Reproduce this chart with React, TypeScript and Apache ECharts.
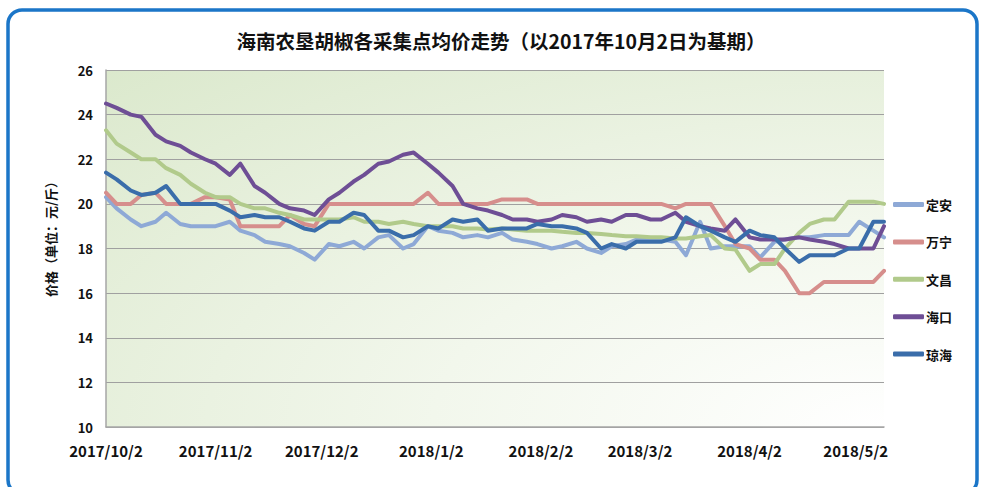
import React, { useEffect, useRef } from "react";
import * as echarts from "echarts";

// Collection dates (Mon / Thu)
const dates: string[] = [
  "2017-10-02", "2017-10-05", "2017-10-09", "2017-10-12", "2017-10-16", "2017-10-19", "2017-10-23", "2017-10-26", "2017-10-30",
  "2017-11-02", "2017-11-06", "2017-11-09", "2017-11-13", "2017-11-16", "2017-11-20", "2017-11-23", "2017-11-27", "2017-11-30",
  "2017-12-04", "2017-12-07", "2017-12-11", "2017-12-14", "2017-12-18", "2017-12-21", "2017-12-25", "2017-12-28",
  "2018-01-01", "2018-01-04", "2018-01-08", "2018-01-11", "2018-01-15", "2018-01-18", "2018-01-22", "2018-01-25", "2018-01-29",
  "2018-02-01", "2018-02-05", "2018-02-08", "2018-02-12", "2018-02-15", "2018-02-19", "2018-02-22", "2018-02-26",
  "2018-03-01", "2018-03-05", "2018-03-08", "2018-03-12", "2018-03-15", "2018-03-19", "2018-03-22", "2018-03-26", "2018-03-29",
  "2018-04-02", "2018-04-05", "2018-04-09", "2018-04-12", "2018-04-16", "2018-04-19", "2018-04-23", "2018-04-26", "2018-04-30",
  "2018-05-03", "2018-05-07", "2018-05-10",
];

const seriesNames = ["定安", "万宁", "文昌", "海口", "琼海"];

const dingan: number[] = [
  20.3, 19.8, 19.3, 19.0, 19.2, 19.6, 19.1, 19.0, 19.0, 19.0,
  19.2, 18.8, 18.6, 18.3, 18.2, 18.1, 17.8, 17.5, 18.2, 18.1,
  18.3, 18.0, 18.5, 18.6, 18.0, 18.2, 19.0, 18.8, 18.7, 18.5,
  18.6, 18.5, 18.7, 18.4, 18.3, 18.2, 18.0, 18.1, 18.3, 18.0,
  17.8, 18.1, 18.2, 18.4, 18.4, 18.4, 18.3, 17.7, 19.2, 18.0,
  18.1, 18.1, 18.1, 17.6, 18.3, 18.4, 18.5, 18.5, 18.6, 18.6,
  18.6, 19.2, 18.8, 18.5,
];
const wanning: number[] = [
  20.5, 20.0, 20.0, 20.4, 20.5, 20.0, 20.0, 20.0, 20.3, 20.3,
  20.2, 19.0, 19.0, 19.0, 19.0, 19.5, 19.1, 19.0, 20.0, 20.0,
  20.0, 20.0, 20.0, 20.0, 20.0, 20.0, 20.5, 20.0, 20.0, 20.0,
  20.0, 20.0, 20.2, 20.2, 20.2, 20.0, 20.0, 20.0, 20.0, 20.0,
  20.0, 20.0, 20.0, 20.0, 20.0, 20.0, 19.8, 20.0, 20.0, 20.0,
  19.0, 18.2, 18.0, 17.5, 17.5, 17.0, 16.0, 16.0, 16.5, 16.5,
  16.5, 16.5, 16.5, 17.0,
];
const wenchang: number[] = [
  23.3, 22.7, 22.3, 22.0, 22.0, 21.6, 21.3, 20.9, 20.5, 20.3,
  20.3, 20.0, 19.8, 19.8, 19.6, 19.5, 19.3, 19.3, 19.3, 19.3,
  19.4, 19.2, 19.2, 19.1, 19.2, 19.1, 19.0, 19.0, 19.0, 18.9,
  18.9, 18.85, 18.9, 18.85, 18.8, 18.8, 18.8, 18.75, 18.7, 18.7,
  18.65, 18.6, 18.55, 18.55, 18.5, 18.5, 18.45, 18.45, 18.55, 18.6,
  18.0, 17.95, 17.0, 17.3, 17.3, 18.0, 18.7, 19.1, 19.3, 19.3,
  20.1, 20.1, 20.1, 20.0,
];
const haikou: number[] = [
  24.5, 24.3, 24.0, 23.9, 23.1, 22.8, 22.6, 22.3, 22.0, 21.8,
  21.3, 21.8, 20.8, 20.5, 20.0, 19.8, 19.7, 19.5, 20.2, 20.5,
  21.0, 21.3, 21.8, 21.9, 22.2, 22.3, 21.8, 21.4, 20.8, 20.0,
  19.8, 19.7, 19.5, 19.3, 19.3, 19.2, 19.3, 19.5, 19.4, 19.2,
  19.3, 19.2, 19.5, 19.5, 19.3, 19.3, 19.6, 19.2, 19.0, 18.9,
  18.8, 19.3, 18.5, 18.4, 18.4, 18.4, 18.5, 18.4, 18.3, 18.2,
  18.0, 18.0, 18.0, 19.0,
];
const qionghai: number[] = [
  21.4, 21.1, 20.6, 20.4, 20.5, 20.8, 20.0, 20.0, 20.0, 20.0,
  19.7, 19.4, 19.5, 19.4, 19.4, 19.2, 18.9, 18.8, 19.2, 19.2,
  19.6, 19.5, 18.8, 18.8, 18.5, 18.6, 19.0, 18.9, 19.3, 19.2,
  19.3, 18.8, 18.9, 18.9, 18.9, 19.1, 19.0, 19.0, 18.9, 18.7,
  18.0, 18.2, 18.0, 18.3, 18.3, 18.3, 18.5, 19.4, 19.0, 18.8,
  18.5, 18.3, 18.8, 18.6, 18.5, 18.0, 17.4, 17.7, 17.7, 17.7,
  18.0, 18.0, 19.2, 19.2,
];

const tickDates = ["2017-10-02", "2017-11-02", "2017-12-02", "2018-01-02", "2018-02-02", "2018-03-02", "2018-04-02", "2018-05-02"];
const tickLabels = ["2017/10/2", "2017/11/2", "2017/12/2", "2018/1/2", "2018/2/2", "2018/3/2", "2018/4/2", "2018/5/2"];

const colors = ["#8EA9D6", "#D68E8C", "#B1CA8B", "#6E4E95", "#3A6DAA"];

const dayOf = (s: string) => {
  const [y, m, d] = s.split("-").map(Number);
  return Math.round((Date.UTC(y, m - 1, d) - Date.UTC(2017, 9, 2)) / 86400000);
};

export default function App() {
  const ref = useRef<HTMLDivElement>(null);
  useEffect(() => {
    if (!ref.current) return;
    const chart = echarts.init(ref.current, undefined, { renderer: "svg" });
    const xs = dates.map(dayOf);
    const tickDays = tickDates.map(dayOf);
    const all = [dingan, wanning, wenchang, haikou, qionghai];
    const font = "'Noto Sans CJK SC', 'Noto Sans', sans-serif";
    chart.setOption({
      animation: false,
      backgroundColor: "#ffffff",
      color: colors,
      title: {
        text: "海南农垦胡椒各采集点均价走势（以2017年10月2日为基期）",
        left: 496,
        textAlign: "center",
        top: 26,
        textStyle: { fontFamily: font, fontSize: 19.5, fontWeight: "bold", color: "#111" },
      },
      legend: {
        orient: "vertical",
        left: 888,
        top: 193,
        icon: "roundRect",
        itemWidth: 31,
        itemHeight: 5,
        itemGap: 24.4,
        textStyle: { fontFamily: font, fontSize: 13, fontWeight: "bold", color: "#111", padding: [0, 0, 0, -3] },
        data: seriesNames,
      },
      grid: {
        left: 106,
        right: 97,
        top: 70,
        bottom: 60,
        show: true,
        borderWidth: 0,
        backgroundColor: {
          type: "radial",
          x: 1,
          y: 1,
          r: 1.45,
          colorStops: [
            { offset: 0, color: "#FFFFFF" },
            { offset: 0.4, color: "#F2F7EC" },
            { offset: 1, color: "#DAE8CB" },
          ],
        },
      },
      xAxis: {
        type: "value",
        min: 0,
        max: xs[xs.length - 1],
        splitLine: { show: false },
        axisLine: { show: true, lineStyle: { color: "#A6A6A6", width: 1.5 } },
        axisTick: { show: false },
        axisLabel: {
          customValues: tickDays,
          margin: 16,
          fontFamily: font,
          fontSize: 15,
          fontWeight: "bold",
          color: "#111",
          formatter: (v: number) => {
            const i = tickDays.indexOf(Math.round(v));
            return i >= 0 ? tickLabels[i] : "";
          },
        },
      },
      yAxis: {
        type: "value",
        min: 10,
        max: 26,
        interval: 2,
        axisLine: { show: true, lineStyle: { color: "#A6A6A6", width: 1.5 } },
        axisTick: { show: false },
        splitLine: { show: true, lineStyle: { color: "#A0A0A0", width: 1.2 } },
        axisLabel: { margin: 13, fontFamily: font, fontSize: 13, fontWeight: "bold", color: "#111" },
      },
      graphic: [
        {
          type: "rect",
          shape: { x: 8, y: 10, width: 969, height: 484, r: 14 },
          style: { fill: "none", stroke: "#1B76C8", lineWidth: 3.5 },
          silent: true,
        },
        {
          type: "text",
          x: 50,
          y: 236,
          rotation: Math.PI / 2,
          style: {
            text: "价格（单位：元/斤）",
            fontFamily: font,
            fontSize: 13,
            fontWeight: "bold",
            fill: "#111",
            align: "center",
            verticalAlign: "middle",
          },
        },
      ],
      series: all.map((vals, k) => ({
        name: seriesNames[k],
        type: "line",
        symbol: "none",
        data: xs.map((x, i) => [x, vals[i]]),
        lineStyle: { width: 4, color: colors[k], cap: "round", join: "round" },
        itemStyle: { color: colors[k] },
      })),
    });
    return () => chart.dispose();
  }, []);
  return <div ref={ref} style={{ position: "fixed", left: 0, top: 0, width: 981, height: 487 }} />;
}
